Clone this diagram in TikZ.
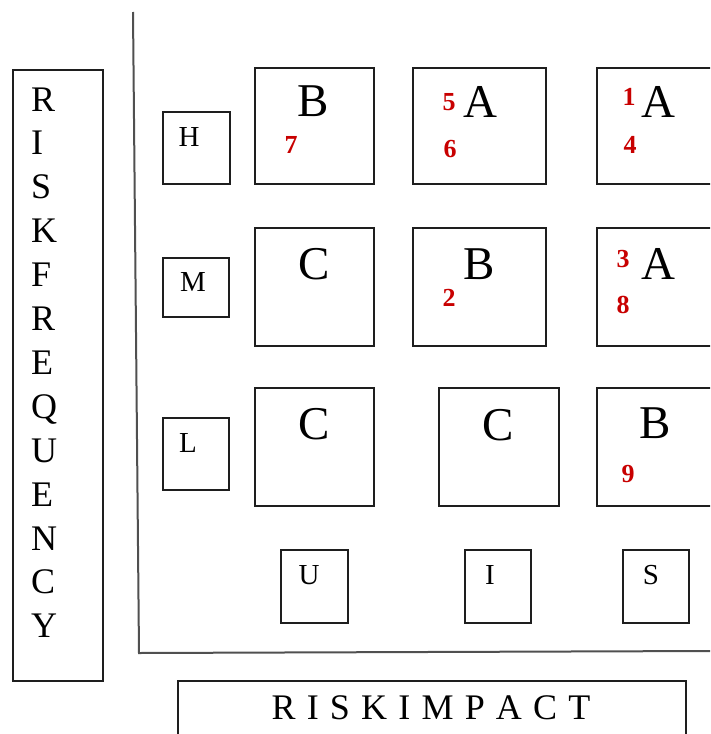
\documentclass[tikz,border=0pt]{standalone}
\usepackage{fontspec}
\setmainfont{Liberation Serif}
\definecolor{numred}{RGB}{200,0,0}
\definecolor{axisgray}{RGB}{80,80,80}
\definecolor{boxblack}{RGB}{30,30,30}
\newcommand{\lsp}{\hspace{11.2pt}}
\begin{document}
\begin{tikzpicture}[x=1pt,y=-1pt,
  box/.style={draw=boxblack, line width=1.5pt, inner sep=0pt, outer sep=0pt, rectangle},
  big/.style={font=\fontsize{47}{47}\selectfont, anchor=base, inner sep=0pt},
  small/.style={font=\fontsize{29}{29}\selectfont, anchor=base, inner sep=0pt},
  vert/.style={font=\fontsize{36}{36}\selectfont, anchor=base west, inner sep=0pt},
  num/.style={font=\fontsize{26}{26}\selectfont\bfseries, text=numred, anchor=base, inner sep=0pt},
  axisline/.style={draw=axisgray, line width=2pt}]
\useasboundingbox (0,0) rectangle (710,734);
\clip (0,0) rectangle (710,734);

% axes
\coordinate (axtop) at (133,12);
\coordinate (axorig) at (139,653);
\coordinate (axright) at (712,651);
\draw[axisline] (axtop) -- (axorig) -- (axright);

% left label box
\node[box, minimum width=90pt, minimum height=611pt] (freqbox) at (58,375.5) {};
\foreach \l [count=\i from 0] in {R,I,S,K,F,R,E,Q,U,E,N,C,Y}
  \node[vert] (f\i) at (31,111+43.9*\i) {\l};

% frequency boxes
\node[box, minimum width=67pt, minimum height=72pt] (hbox) at (196.5,148) {};
\node[box, minimum width=66pt, minimum height=59pt] (mbox) at (196,287.5) {};
\node[box, minimum width=66pt, minimum height=72pt] (lbox) at (196,454) {};
\node[small] (htext) at (189,146) {H};
\node[small] (mtext) at (193,291) {M};
\node[small] (ltext) at (188,452) {L};

% grid boxes
\node[box, minimum width=119pt, minimum height=116pt] (r1c1) at (314.5,126) {};
\node[box, minimum width=133pt, minimum height=116pt] (r1c2) at (479.5,126) {};
\node[box, minimum width=133pt, minimum height=116pt] (r1c3) at (663.5,126) {};
\node[box, minimum width=119pt, minimum height=118pt] (r2c1) at (314.5,287) {};
\node[box, minimum width=133pt, minimum height=118pt] (r2c2) at (479.5,287) {};
\node[box, minimum width=133pt, minimum height=118pt] (r2c3) at (663.5,287) {};
\node[box, minimum width=119pt, minimum height=118pt] (r3c1) at (314.5,447) {};
\node[box, minimum width=120pt, minimum height=118pt] (r3c2) at (499,447) {};
\node[box, minimum width=133pt, minimum height=118pt] (r3c3) at (663.5,447) {};

% grid letters
\node[big] (l11) at (313,116) {B};
\node[big] (l12) at (480,117) {A};
\node[big] (l13) at (658,117) {A};
\node[big] (l21) at (314,279) {C};
\node[big] (l22) at (479,279) {B};
\node[big] (l23) at (658,279) {A};
\node[big] (l31) at (314,439) {C};
\node[big] (l32) at (498,440) {C};
\node[big] (l33) at (655,438) {B};

% red numbers
\node[num] (n7) at (291,153) {7};
\node[num] (n5) at (449,110) {5};
\node[num] (n6) at (450,157) {6};
\node[num] (n1) at (629,105) {1};
\node[num] (n4) at (630,153) {4};
\node[num] (n2) at (449,306) {2};
\node[num] (n3) at (623,267) {3};
\node[num] (n8) at (623,313) {8};
\node[num] (n9) at (628,482) {9};

% impact boxes
\node[box, minimum width=67pt, minimum height=73pt] (ubox) at (314.5,586.5) {};
\node[box, minimum width=66pt, minimum height=73pt] (ibox) at (498,586.5) {};
\node[box, minimum width=66pt, minimum height=73pt] (sbox) at (656,586.5) {};
\node[small] (utext) at (309,584) {U};
\node[small] (itext) at (490,584) {I};
\node[small] (stext) at (651,584) {S};

% impact label box
\node[box, minimum width=508pt, minimum height=80pt] (impbox) at (432,721) {};
\node[font=\fontsize{36}{36}\selectfont, anchor=base, inner sep=0pt] (imptext) at (431,719)
  {R\lsp I\lsp S\lsp K\lsp I\lsp M\lsp P\lsp A\lsp C\lsp T};
\end{tikzpicture}
\end{document}
